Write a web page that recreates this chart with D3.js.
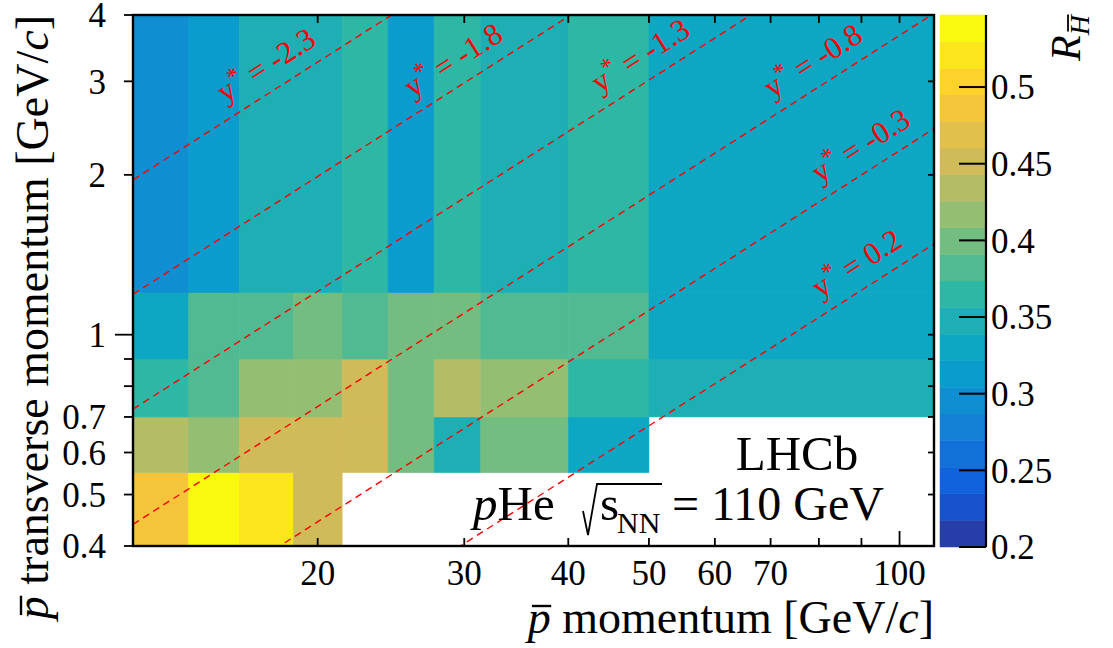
<!DOCTYPE html>
<html><head><meta charset="utf-8">
<script src="https://cdn.jsdelivr.net/npm/d3@7"></script>
<style>
html,body{margin:0;padding:0;background:#fff;}
svg{display:block;}
text{font-family:"Liberation Serif","Times New Roman",serif;fill:#000;}
</style>
</head><body>
<svg id="c" width="1113" height="648"></svg>
<script>
// ---------------- data ----------------
const pEdges  = [12, 14, 16.1, 18.7, 21.4, 24.3, 27.6, 31.4, 40, 50, 110];   // GeV/c
const ptEdges = [0.4, 0.55, 0.7, 0.9, 1.2, 4];                               // GeV/c
// R_Hbar per pT row (columns follow pEdges); null = no measurement
const rPt040_055 = [0.485, 0.547, 0.520, 0.450, null, null, null, null, null, null];
const rPt055_070 = [0.432, 0.415, 0.452, 0.448, 0.450, 0.398, 0.345, 0.401, 0.330, null];
const rPt070_090 = [0.362, 0.381, 0.413, 0.418, 0.447, 0.395, 0.433, 0.412, 0.360, 0.346];
const rPt090_120 = [0.328, 0.379, 0.383, 0.397, 0.380, 0.401, 0.396, 0.384, 0.377, 0.326];
const rPt120_400 = [0.296, 0.312, 0.347, 0.344, 0.362, 0.310, 0.365, 0.349, 0.360, 0.327];
const yStarValues = [-2.3, -1.8, -1.3, -0.8, -0.3, 0.2];
const yCM = 4.8;
const xTicks = [20, 30, 40, 50, 60, 70, 80, 90, 100];
const xTickLabels = [20, 30, 40, 50, 60, 70, 100];
const yTicks = [0.4, 0.5, 0.6, 0.7, 0.8, 0.9, 1, 2, 3, 4];
const yTickLabels = [0.4, 0.5, 0.6, 0.7, 1, 2, 3, 4];
const zRange = [0.2, 0.547];
const zTicks = [0.2, 0.25, 0.3, 0.35, 0.4, 0.45, 0.5];
const nContours = 20;

// ---------------- layout ----------------
const F = {l:133, r:934, t:15, b:546};
const CB = {l:940, r:986};
const labelAnchorP = [18.0, 30.2, 50.7, 81.7, 93.2, 92.2];

// kBird palette (ROOT)
const bStops = [0.0, 0.125, 0.25, 0.375, 0.5, 0.625, 0.75, 0.875, 1.0];
const bR = [0.2082, 0.0592, 0.0780, 0.0232, 0.1802, 0.5301, 0.8186, 0.9956, 0.9764];
const bG = [0.1664, 0.3599, 0.5041, 0.6419, 0.7178, 0.7492, 0.7328, 0.7862, 0.9832];
const bB = [0.5293, 0.8684, 0.8385, 0.7914, 0.6425, 0.4662, 0.3499, 0.1968, 0.0539];
function bird(t){
  let k = 0;
  while (k < bStops.length-2 && t > bStops[k+1]) k++;
  const f = (t - bStops[k])/(bStops[k+1]-bStops[k]);
  const c = a => Math.round(255*(a[k] + f*(a[k+1]-a[k])));
  return `rgb(${c(bR)},${c(bG)},${c(bB)})`;
}
function bandColor(i){ return bird(Math.floor((i+0.99)*255/nContours)/255); }
function bandOf(v){
  let i = Math.floor((v - zRange[0])/(zRange[1]-zRange[0])*nContours);
  return Math.max(0, Math.min(nContours-1, i));
}

const svg = d3.select("#c");
const x = d3.scaleLog().domain([pEdges[0], pEdges[pEdges.length-1]]).range([F.l, F.r]);
const y = d3.scaleLog().domain([ptEdges[0], ptEdges[ptEdges.length-1]]).range([F.b, F.t]);
const zS = d3.scaleLinear().domain(zRange).range([F.b+1, F.t]);

// ---------------- cells ----------------
const rows = [rPt040_055, rPt055_070, rPt070_090, rPt090_120, rPt120_400];
const cells = [];
rows.forEach((row, r) => row.forEach((v, c) => { if (v !== null) cells.push({r, c, v}); }));
svg.append("g").selectAll("rect").data(cells).join("rect")
  .attr("x", d => x(pEdges[d.c]))
  .attr("y", d => y(ptEdges[d.r+1]))
  .attr("width", d => x(pEdges[d.c+1]) - x(pEdges[d.c]))
  .attr("height", d => y(ptEdges[d.r]) - y(ptEdges[d.r+1]))
  .attr("fill", d => bandColor(bandOf(d.v)))
  .attr("stroke", d => bandColor(bandOf(d.v)))
  .attr("stroke-width", 0.6);

// ---------------- y* lines ----------------
svg.append("clipPath").attr("id","fr").append("rect")
  .attr("x",F.l).attr("y",F.t).attr("width",F.r-F.l).attr("height",F.b-F.t);
const lineG = svg.append("g").attr("clip-path","url(#fr)");
const pRange = [pEdges[0], pEdges[pEdges.length-1]];
const ptOf = (p, ys) => p / Math.cosh(ys + yCM);
lineG.selectAll("path").data(yStarValues).join("path")
  .attr("d", ys => d3.line()(pRange.map(p => [x(p), y(ptOf(p, ys))])))
  .attr("fill","none").attr("stroke","#ff0000").attr("stroke-width",1.4)
  .attr("stroke-dasharray","7,5");

const ang = Math.atan2(y(2)-y(1), x(40)-x(20))*180/Math.PI;
yStarValues.forEach((ys, i) => {
  const p = labelAnchorP[i];
  const g = svg.append("g").attr("transform",`translate(${x(p)},${y(ptOf(p,ys))}) rotate(${ang})`);
  const t = g.append("text").attr("y",-15).attr("text-anchor","middle")
    .attr("font-size",31).style("fill","#ff0000");
  t.append("tspan").text("y");
  t.append("tspan").attr("font-size",24).attr("dy",-11).text("*");
  t.append("tspan").attr("dy",11).text(" = " + ys);
});

// ---------------- frame & axes ----------------
svg.append("rect").attr("x",F.l).attr("y",F.t).attr("width",F.r-F.l).attr("height",F.b-F.t)
  .attr("fill","none").attr("stroke","#000").attr("stroke-width",2.4);
const ax = svg.append("g").attr("stroke","#000").attr("stroke-width",1.8);
xTicks.forEach(v => {
  const len = v === 100 ? 15 : 8;
  ax.append("line").attr("x1",x(v)).attr("x2",x(v)).attr("y1",F.b).attr("y2",F.b-len);
  ax.append("line").attr("x1",x(v)).attr("x2",x(v)).attr("y1",F.t).attr("y2",F.t+8);
});
yTicks.forEach(v => {
  const len = v === 1 ? 18 : 9;
  ax.append("line").attr("x1",F.l-len).attr("x2",F.l).attr("y1",y(v)).attr("y2",y(v));
  ax.append("line").attr("x1",F.r-6).attr("x2",F.r).attr("y1",y(v)).attr("y2",y(v));
});
svg.append("g").selectAll("text").data(xTickLabels).join("text")
  .attr("x", d => x(d)).attr("y", 585).attr("text-anchor","middle")
  .attr("font-size",35).text(d => d);
svg.append("g").selectAll("text").data(yTickLabels).join("text")
  .attr("x", 106).attr("y", d => y(d)).attr("dy","0.35em").attr("text-anchor","end")
  .attr("font-size",35).text(d => d);

// axis titles
function barOver(g, textNode, idx, yOff, w){
  const e = textNode.getExtentOfChar(idx);
  g.append("line").attr("x1", e.x + e.width*0.18).attr("x2", e.x + e.width*1.02)
    .attr("y1", yOff).attr("y2", yOff).attr("stroke","#000").attr("stroke-width", w);
}
{
  const g = svg.append("g").attr("transform","translate(934,633)");
  const t = g.append("text").attr("text-anchor","end").attr("font-size",46);
  t.append("tspan").attr("font-style","italic").text("p");
  t.append("tspan").text(" momentum [GeV/");
  t.append("tspan").attr("font-style","italic").text("c");
  t.append("tspan").text("]");
  barOver(g, t.node(), 0, -27, 2.4);
}
{
  const g = svg.append("g").attr("transform","translate(48,15) rotate(-90)");
  const t = g.append("text").attr("text-anchor","end").attr("font-size",46);
  t.append("tspan").attr("font-style","italic").text("p");
  t.append("tspan").text(" transverse momentum [GeV/");
  t.append("tspan").attr("font-style","italic").text("c");
  t.append("tspan").text("]");
  barOver(g, t.node(), 0, -27, 2.4);
}

// ---------------- colour bar ----------------
const bw = (zRange[1]-zRange[0])/nContours;
svg.append("g").selectAll("rect").data(d3.range(nContours)).join("rect")
  .attr("x", CB.l).attr("width", CB.r-CB.l)
  .attr("y", i => zS(zRange[0]+(i+1)*bw))
  .attr("height", i => zS(zRange[0]+i*bw) - zS(zRange[0]+(i+1)*bw))
  .attr("fill", i => bandColor(i)).attr("stroke", i => bandColor(i)).attr("stroke-width",0.5);
svg.append("line").attr("x1",CB.r).attr("x2",CB.r).attr("y1",F.t).attr("y2",F.b+1)
  .attr("stroke","#000").attr("stroke-width",2.2);
zTicks.forEach(v => {
  svg.append("line").attr("x1",CB.r-27).attr("x2",CB.r).attr("y1",zS(v)).attr("y2",zS(v))
    .attr("stroke","#000").attr("stroke-width",2);
  svg.append("text").attr("x",CB.r+5).attr("y",zS(v)).attr("dy","0.35em")
    .attr("font-size",35).text(v);
});
{
  const g = svg.append("g").attr("transform","translate(1080,15) rotate(-90)");
  const t = g.append("text").attr("text-anchor","end").attr("font-size",42);
  t.append("tspan").attr("font-style","italic").text("R");
  t.append("tspan").attr("font-style","italic").attr("font-size",28).attr("dy",9).text("H");
  barOver(g, t.node(), 1, -12, 1.8);
}

// ---------------- LHCb label ----------------
svg.append("text").attr("x",797).attr("y",470).attr("text-anchor","middle")
  .attr("font-size",49).text("LHCb");
{
  const t = svg.append("text").attr("x",473).attr("y",520).attr("font-size",49);
  t.append("tspan").attr("font-style","italic").text("p");
  t.append("tspan").text("He");
  svg.append("path").attr("d","M583,511 L588,535 L597,484 L662,484")
    .attr("fill","none").attr("stroke","#000").attr("stroke-width",1.8);
  svg.append("text").attr("x",600).attr("y",520).attr("font-size",49).text("s");
  svg.append("text").attr("x",617).attr("y",533).attr("font-size",30).text("NN");
  svg.append("text").attr("x",884).attr("y",520).attr("text-anchor","end")
    .attr("font-size",48).text("= 110 GeV");
}
</script>
</body></html>
